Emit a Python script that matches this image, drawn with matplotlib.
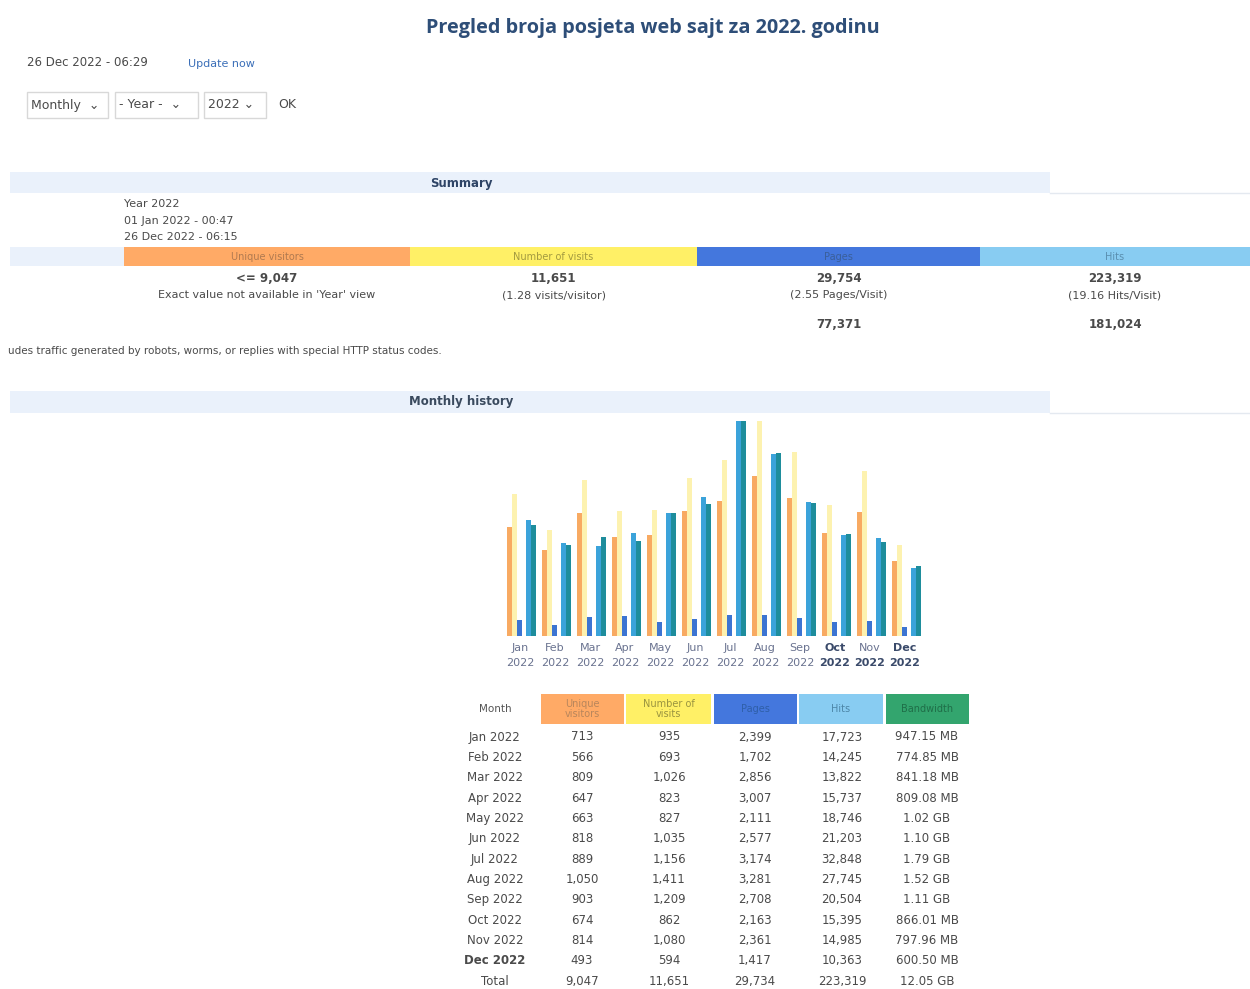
import matplotlib.pyplot as plt
from matplotlib.patches import Rectangle
import numpy as np

# data
months = ["Jan", "Feb", "Mar", "Apr", "May", "Jun", "Jul", "Aug", "Sep", "Oct", "Nov", "Dec"]
visitors = [713, 566, 809, 647, 663, 818, 889, 1050, 903, 674, 814, 493]
visits = [935, 693, 1026, 823, 827, 1035, 1156, 1411, 1209, 862, 1080, 594]
pages = [2399, 1702, 2856, 3007, 2111, 2577, 3174, 3281, 2708, 2163, 2361, 1417]
hits = [17723, 14245, 13822, 15737, 18746, 21203, 32848, 27745, 20504, 15395, 14985, 10363]
bandwidth_mb = [947.15, 774.85, 841.18, 809.08, 1044.5, 1126.4, 1833.0, 1556.5, 1136.6, 866.01, 797.96, 600.50]
bandwidth_txt = ["947.15 MB", "774.85 MB", "841.18 MB", "809.08 MB", "1.02 GB", "1.10 GB",
                 "1.79 GB", "1.52 GB", "1.11 GB", "866.01 MB", "797.96 MB", "600.50 MB"]
totals = ["9,047", "11,651", "29,734", "223,319", "12.05 GB"]

summary_heads = ["Unique visitors", "Number of visits", "Pages", "Hits"]
summary_vals = ["<= 9,047", "11,651", "29,754", "223,319"]
summary_sub = ["Exact value not available in 'Year' view", "(1.28 visits/visitor)",
               "(2.55 Pages/Visit)", "(19.16 Hits/Visit)"]
summary_extra = ["", "", "77,371", "181,024"]

c_vis = "#FFAA66"
c_vst = "#FFF066"
c_pag = "#4477DD"
c_hit = "#88CCF2"
c_bw = "#33A56E"
txt = "#4a4a4a"
band = "#EAF1FB"

W, H = 1250, 989
fig = plt.figure(figsize=(W / 100, H / 100), dpi=100)
fig.patch.set_facecolor("white")
pg = fig.add_axes([0, 0, 1, 1])
pg.set_xlim(0, W)
pg.set_ylim(H, 0)
pg.axis("off")

pg.text(653, 28, "Pregled broja posjeta web sajt za 2022. godinu", ha="center", va="center",
        fontsize=14.3, fontweight="bold", family="Open Sans", color="#2E4E78")

pg.text(27, 63, "26 Dec 2022 - 06:29", fontsize=8.5, color=txt, va="center")
pg.text(188, 64, "Update now", fontsize=8, color="#3B6FB8", va="center")

# form controls
for x0, x1, lab in [(27, 108, "Monthly  \u2304"), (115, 198, "- Year -  \u2304"), (204, 266, "2022 \u2304")]:
    pg.add_patch(Rectangle((x0, 92), x1 - x0, 26, fc="white", ec="#d8d8d8", lw=1))
    pg.text(x0 + 4, 105, lab, fontsize=9, color=txt, va="center")
pg.text(278, 105, "OK", fontsize=9, color=txt, va="center")

# summary block
pg.add_patch(Rectangle((10, 172), 1040, 21, fc=band, ec="none"))
pg.plot([1050, 1250], [193, 193], color="#e4e9f0", lw=1)
pg.text(461, 183, "Summary", fontsize=8.5, fontweight="bold", color="#2E4466", ha="center", va="center")
for i, s in enumerate(["Year 2022", "01 Jan 2022 - 00:47", "26 Dec 2022 - 06:15"]):
    pg.text(124, 204 + i * 16.5, s, fontsize=8, color=txt, va="center")

pg.add_patch(Rectangle((10, 247), 114, 19, fc=band, ec="none"))
edges = [124, 410, 697, 980, 1250]
cols = [c_vis, c_vst, c_pag, c_hit]
head_sum_tc = ["#b07a50", "#a39a40", "#3a5f9a", "#5a8fb0"]
for i in range(4):
    x0, x1 = edges[i], edges[i + 1]
    cx = (x0 + x1) / 2
    pg.add_patch(Rectangle((x0, 247), x1 - x0, 19, fc=cols[i], ec="none"))
    pg.text(cx, 256.5, summary_heads[i], fontsize=7, color=head_sum_tc[i], ha="center", va="center")
    pg.text(cx, 279, summary_vals[i], fontsize=8.5, fontweight="bold", color=txt, ha="center", va="center")
    pg.text(cx, 295, summary_sub[i], fontsize=8, color=txt, ha="center", va="center")
    if summary_extra[i]:
        pg.text(cx, 324, summary_extra[i], fontsize=8.5, fontweight="bold", color=txt, ha="center", va="center")

pg.text(8, 351, "udes traffic generated by robots, worms, or replies with special HTTP status codes.",
        fontsize=7.5, color=txt, va="center")

# monthly history band
pg.add_patch(Rectangle((10, 391), 1040, 22, fc=band, ec="none"))
pg.plot([1050, 1250], [413, 413], color="#e4e9f0", lw=1)
pg.text(461, 402, "Monthly history", fontsize=8.5, fontweight="bold", color="#3a4a5e", ha="center", va="center")

# bar chart
ax = fig.add_axes([502.5 / W, (H - 636) / H, 420 / W, 215 / H])
ax.set_xlim(-0.5, 11.5)
ax.set_ylim(0, 1)
ax.axis("off")
x = np.arange(len(months))
bw = 5.5 / 35
vmax = max(visits)
ax.bar(x - 0.30, np.array(visitors) / vmax, bw, color="#F8AA62")
ax.bar(x - 0.157, np.array(visits) / vmax, bw, color="#FDF2B0")
ax.bar(x - 0.014, np.array(pages) / max(hits), bw, color="#3C74D2")
ax.bar(x + 0.243, np.array(hits) / max(hits), bw, color="#3BA3DA")
ax.bar(x + 0.386, np.array(bandwidth_mb) / max(bandwidth_mb), bw, color="#1E8D9C")

bold_m = [False] * 9 + [True, False, True]
bold_y = [False] * 9 + [True, True, True]
tr = ax.get_xaxis_transform()
for i, m in enumerate(months):
    ax.text(i, -0.056, m, transform=tr, ha="center", va="center", fontsize=8,
            color="#3a4a6a" if bold_m[i] else "#6a7390", fontweight="bold" if bold_m[i] else "normal")
    ax.text(i, -0.126, "2022", transform=tr, ha="center", va="center", fontsize=8,
            color="#3a4a6a" if bold_y[i] else "#6a7390", fontweight="bold" if bold_y[i] else "normal")

# table
col_x = [495, 582, 669, 755, 842, 927]
head_edges = [(541, 624), (626, 711), (714, 797), (799, 883), (886, 969)]
head_cols = [c_vis, c_vst, c_pag, c_hit, c_bw]
head_txt = ["Unique\nvisitors", "Number of\nvisits", "Pages", "Hits", "Bandwidth"]
head_tc = ["#b8865c", "#9a9440", "#2f5fa8", "#4d86a8", "#1f6e48"]
pg.text(col_x[0], 709, "Month", fontsize=7.5, color="#555", ha="center", va="center")
for (x0, x1), c, t, tc in zip(head_edges, head_cols, head_txt, head_tc):
    pg.add_patch(Rectangle((x0, 694), x1 - x0, 30, fc=c, ec="none"))
    pg.text((x0 + x1) / 2, 709, t, fontsize=7, color=tc, ha="center", va="center", linespacing=1.1)

for r, m in enumerate(months):
    y = 737 + r * 20.35
    wt = "bold" if m == "Dec" else "normal"
    row = [f"{m} 2022", f"{visitors[r]:,}", f"{visits[r]:,}", f"{pages[r]:,}", f"{hits[r]:,}", bandwidth_txt[r]]
    for cx, s in zip(col_x, row):
        pg.text(cx, y, s, fontsize=8.5, color=txt, ha="center", va="center",
                fontweight=wt if cx == col_x[0] else "normal")
y = 737 + 12 * 20.35
for cx, s in zip(col_x, ["Total"] + totals):
    pg.text(cx, y, s, fontsize=8.5, color=txt, ha="center", va="center")

fig.savefig("out.png", dpi=100)
